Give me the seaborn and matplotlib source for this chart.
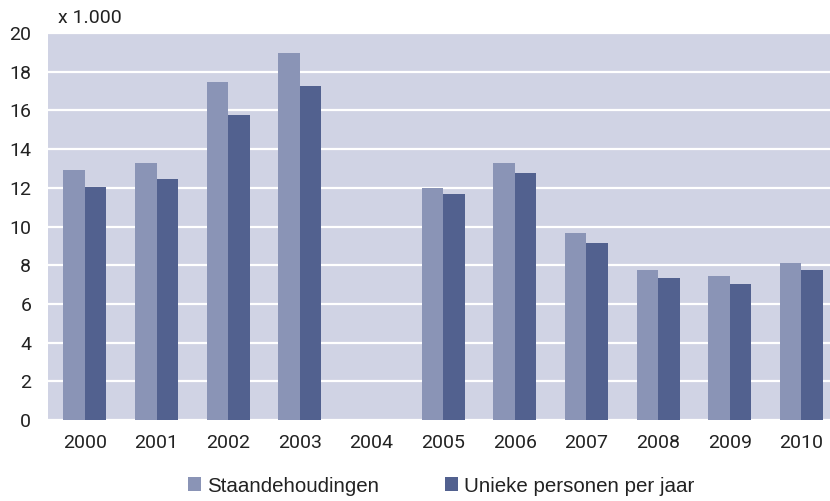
import numpy as np
import pandas as pd
import matplotlib
matplotlib.use("Agg")
import matplotlib.pyplot as plt
from matplotlib.patches import Patch
import seaborn as sns

years = ["2000", "2001", "2002", "2003", "2004", "2005",
         "2006", "2007", "2008", "2009", "2010"]
staandehoudingen = [12.9, 13.3, 17.45, 18.95, np.nan, 12.0,
                    13.3, 9.65, 7.75, 7.45, 8.1]
unieke_personen = [12.05, 12.45, 15.75, 17.25, np.nan, 11.7,
                   12.75, 9.15, 7.35, 7.05, 7.75]
series_names = ["Staandehoudingen", "Unieke personen per jaar"]
yticks = [0, 2, 4, 6, 8, 10, 12, 14, 16, 18, 20]

light = "#8a94b6"
dark = "#52618f"
bg = "#d0d3e4"
text_color = "#222222"

df = pd.DataFrame({
    "jaar": years * 2,
    "aantal": staandehoudingen + unieke_personen,
    "reeks": [series_names[0]] * len(years) + [series_names[1]] * len(years),
})

sns.set_theme(style="white")
plt.rcParams["font.family"] = ["Roboto", "DejaVu Sans"]

fig = plt.figure(figsize=(8.3, 5.01), dpi=100)
ax = fig.add_axes([48 / 830, 81 / 501, 782 / 830, 387 / 501])
ax.set_facecolor(bg)

sns.barplot(data=df, x="jaar", y="aantal", hue="reeks", order=years,
            hue_order=series_names, palette=[light, dark], width=0.6,
            saturation=1, linewidth=0, errorbar=None, ax=ax, legend=False,
            zorder=3)

ax.set_xlim(-0.516, 10.4)
ax.set_ylim(0, 20)
ax.set_yticks(yticks)
ax.set_yticklabels([str(v) for v in yticks])
ax.yaxis.grid(True, color="white", linewidth=1.6, zorder=1)
ax.set_axisbelow(True)
for s in ax.spines.values():
    s.set_visible(False)
ax.tick_params(axis="both", length=0, labelsize=14, colors=text_color)
ax.tick_params(axis="y", pad=12)
ax.tick_params(axis="x", pad=10)
ax.set_xlabel("")
ax.set_ylabel("")

fig.text(58 / 830, 1 - 18 / 501, "x 1.000", fontsize=14, color=text_color,
         ha="left", va="center")

handles = [Patch(facecolor=light, edgecolor="none"),
           Patch(facecolor=dark, edgecolor="none")]
fig.legend(handles, series_names, loc="center", ncol=2,
           bbox_to_anchor=(441 / 830, 1 - 486 / 501), frameon=False,
           prop={"family": ["Liberation Sans", "DejaVu Sans"], "size": 14.8},
           handlelength=0.64, handleheight=0.64, handletextpad=0.3,
           columnspacing=3.2, labelcolor=text_color, borderpad=0,
           borderaxespad=0)

fig.savefig("out.png", dpi=100)
